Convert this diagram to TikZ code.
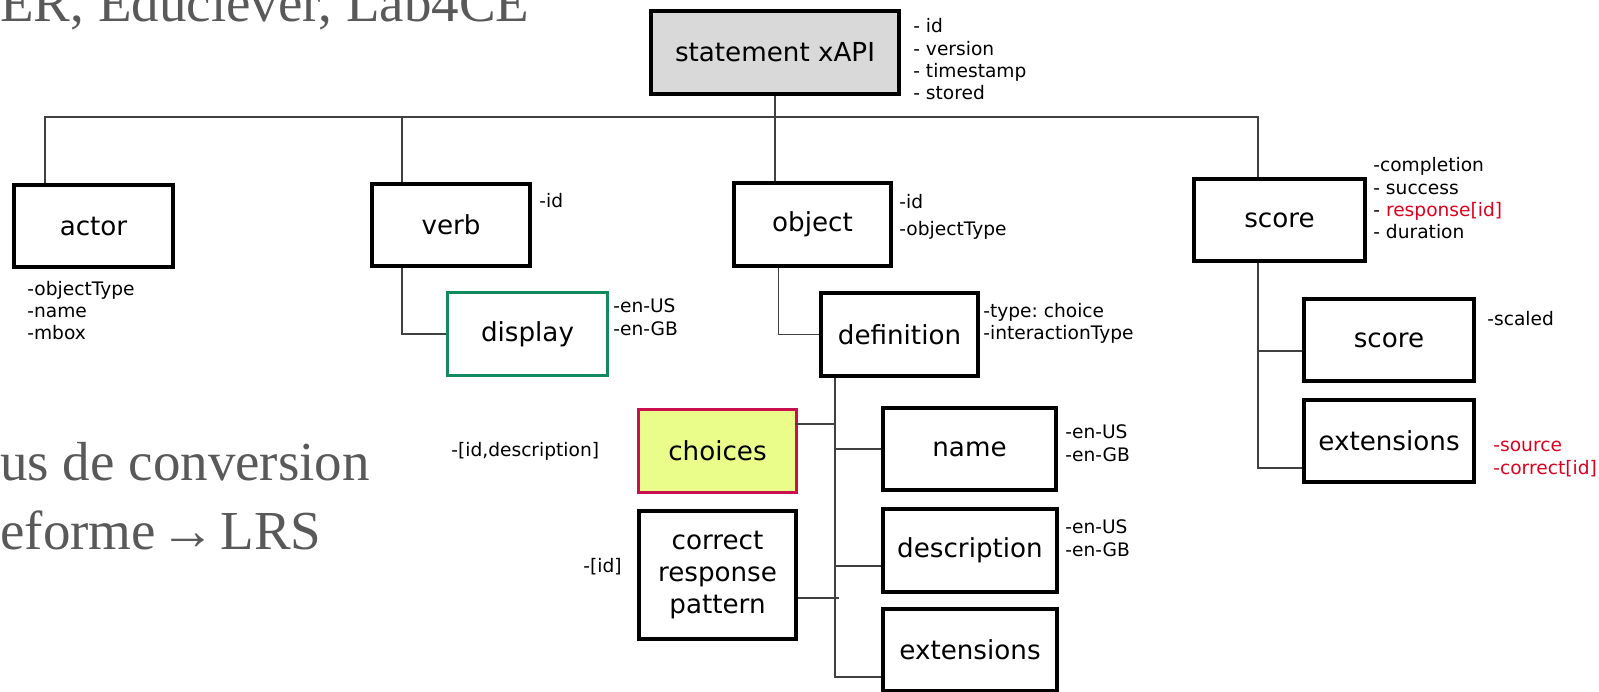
\documentclass[tikz,border=0pt]{standalone}
\usepackage{fontspec}
\setmainfont{DejaVu Sans}
\newfontfamily\slideserif{Liberation Serif}
\usetikzlibrary{positioning,calc}
\definecolor{headgray}{RGB}{217,217,217}
\definecolor{displaygreen}{RGB}{16,138,94}
\definecolor{choicefill}{RGB}{234,253,138}
\definecolor{choiceborder}{RGB}{200,16,80}
\definecolor{notered}{RGB}{222,0,30}
\definecolor{slidegray}{RGB}{89,89,89}
\newcommand\boxfont{\fontsize{14.9}{18}\selectfont}
\newcommand\notefont{\fontsize{10.6}{12.8}\selectfont}
\frenchspacing
\tikzset{
  box/.style={
    draw=black,
    line width=2.2pt,
    align=center,
    minimum width=3.17cm,
    minimum height=1.65cm,
    inner sep=2pt,
    font=\boxfont
  },
  % multi-line notes sit on the baseline of their last line
  note/.style={anchor=base west, align=left, inner sep=0pt, font=\notefont},
  link/.style={draw=black!75, line width=0.8pt},
  slide/.style={anchor=base west, inner sep=0pt, text=slidegray,
    font=\slideserif\fontsize{31.3}{36}\selectfont}
}

\begin{document}
\begin{tikzpicture}[x=0.02cm, y=-0.02cm]
        \useasboundingbox (0,0) rectangle (1599,692);
        % slide text behind the diagram
        \node[slide] (slideA) at (0,22) {ER, Educlever, Lab4CE};
        \node[slide] (slideB) at (0,480) {us de conversion};
        \node[slide] (slideC) at (0,549) {eforme\hspace{-0.08em}\,→\,\hspace{-0.08em}LRS};
        % statement and its parts
        \node[box, fill=headgray, minimum width=4.97cm, minimum height=1.67cm] (stmt) at (775,52.5) {statement xAPI};
        \node[box, minimum width=3.19cm] (actor) at (93.5,226) {actor};
        \node[box] (verb) at (451,225) {verb};
        \node[box, minimum width=3.15cm] (object) at (812.5,224.5) {object};
        \node[box, minimum width=3.43cm] (score) at (1279.5,220) {score};
        \node[box, draw=displaygreen, line width=1.7pt, minimum width=3.2cm] (display) at (527.5,334) {display};
        \node[box, minimum width=3.15cm] (definition) at (899.5,334.5) {definition};
        \node[box, minimum width=3.41cm] (scaled) at (1389,340) {score};
        \node[box, minimum width=3.41cm] (scoreext) at (1389,441) {extensions};
        \node[box, fill=choicefill, draw=choiceborder, line width=1.7pt, minimum width=3.16cm] (choices) at (717.5,451) {choices};
        \node[box, minimum width=3.15cm, minimum height=2.57cm] (pattern) at (717.5,575) {correct\\response\\pattern};
        \node[box, minimum width=3.47cm] (name) at (969.5,449) {name};
        \node[box, minimum width=3.49cm] (descr) at (970,550.5) {description};
        \node[box, minimum width=3.49cm] (objext) at (970,650) {extensions};

        % properties
        \node[note] (stmtnote) at (913,100) {- id\\- version\\- timestamp\\- stored};
        \node[note] (actornote) at (27,340) {-objectType\\-name\\-mbox};
        \node[note] (verbnote) at (539,208) {-id};
        \node[note] (displaynote) at (613,336) {-en-US\\[0.6pt]-en-GB};
        \node[note] (objectnote) at (899,235.5) {-id\\[2.6pt]-objectType};
        \node[note] (defnote) at (983,340) {-type: choice\\-interactionType};
        \node[note] (choicesnote) at (451,457) {-[id,description]};
        \node[note] (patternnote) at (583,572) {-[id]};
        \node[note] (namenote) at (1065,461) {-en-US\\-en-GB};
        \node[note] (descrnote) at (1065,556) {-en-US\\-en-GB};
        \node[note] (scorenote) at (1373,239) {-completion\\- success\\- \textcolor{notered}{response[id]}\\- duration};
        \node[note] (scalednote) at (1487,326) {-scaled};
        \node[note, text=notered] (scoreextnote) at (1493,474) {-source\\-correct[id]};

        % tree lines
        \coordinate (bus) at (0,117);
        \draw[link] (stmt.south) -- (stmt.south |- bus);
        \draw[link] ([xshift=-0.97cm]actor.north) |- (stmt.south |- bus) -| ([xshift=-0.43cm]score.north);
        \draw[link] ([xshift=-0.98cm]verb.north) -- ([xshift=-0.98cm]verb.north |- bus);
        \draw[link] ([xshift=-0.75cm]object.north) -- ([xshift=-0.75cm]object.north |- bus);
        \draw[link] ([xshift=-0.98cm]verb.south) |- (display.west);
        \draw[link] ([xshift=-0.68cm]object.south) |- (definition.west);
        \coordinate (deftrunk) at ([xshift=-1.29cm]definition.south);
        \draw[link] (deftrunk) |- ([yshift=-0.54cm]objext.west);
        \draw[link] ([xshift=-0.05cm,yshift=0.54cm]choices.east) -- ([yshift=0.54cm]deftrunk |- choices.east);
        \draw[link] (deftrunk |- name.west) -- (name.west);
        \draw[link] ([yshift=-0.31cm]deftrunk |- descr.west) -- ([yshift=-0.31cm]descr.west);
        \draw[link] ([yshift=-0.46cm]pattern.east) -- ([xshift=0.08cm,yshift=-0.46cm]deftrunk |- pattern.east);
        \coordinate (scoretrunk) at ([xshift=-0.43cm]score.south);
        \draw[link] (scoretrunk) |- ([yshift=-0.54cm]scoreext.west);
        \draw[link] ([yshift=-0.22cm]scoretrunk |- scaled.west) -- ([yshift=-0.22cm]scaled.west);
      \end{tikzpicture}
\end{document}
